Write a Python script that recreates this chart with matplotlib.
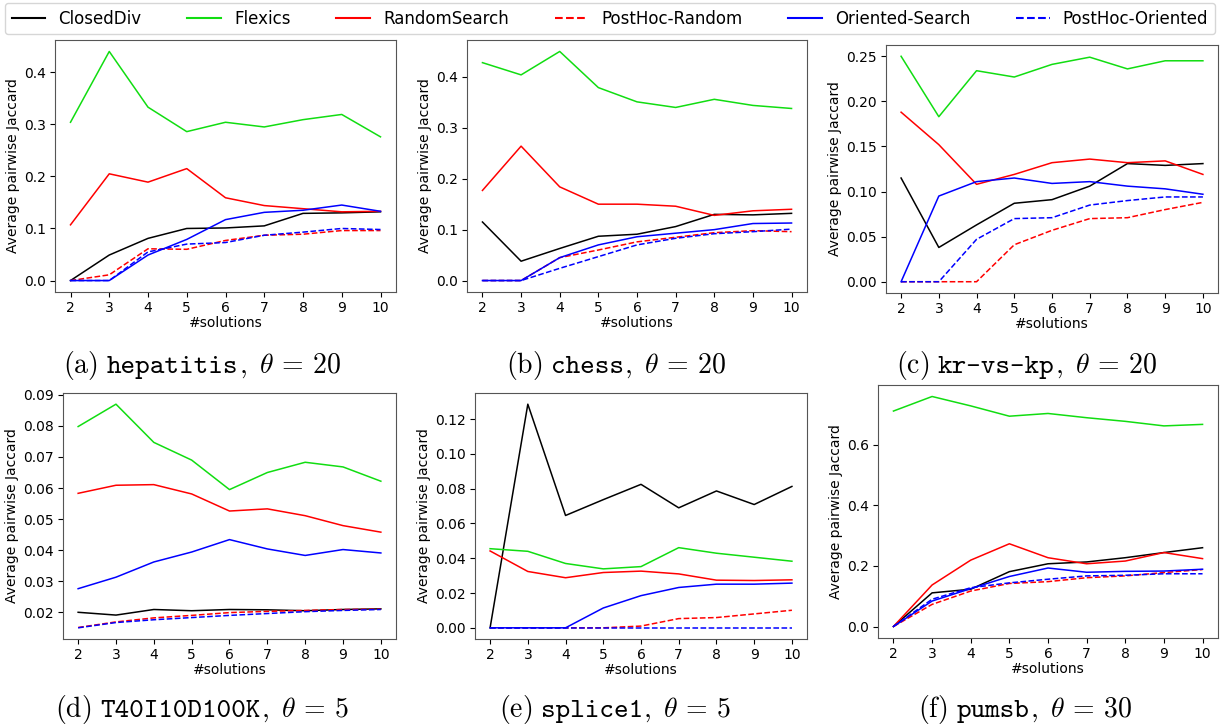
import os
import numpy as np
import matplotlib
matplotlib.use("Agg")
import matplotlib.pyplot as plt
from matplotlib.lines import Line2D
from matplotlib.font_manager import FontProperties
from matplotlib.ticker import MultipleLocator

plt.rcParams['mathtext.fontset'] = 'cm'

n_solutions = [2, 3, 4, 5, 6, 7, 8, 9, 10]

methods = ["ClosedDiv", "Flexics", "RandomSearch", "PostHoc-Random",
           "Oriented-Search", "PostHoc-Oriented"]
colors = ["black", "#11dd11", "red", "red", "blue", "blue"]
styles = ["-", "-", "-", "--", "-", "--"]

cap_labels = ["a", "b", "c", "d", "e", "f"]
datasets = ["hepatitis", "chess", "kr-vs-kp", "T40I10D100K", "splice1", "pumsb"]
thetas = [20, 20, 20, 5, 5, 30]

# (a) hepatitis
hep_closed = [0.0, 0.049, 0.081, 0.100, 0.101, 0.105, 0.129, 0.130, 0.132]
hep_flexics = [0.304, 0.440, 0.333, 0.286, 0.304, 0.295, 0.309, 0.319, 0.276]
hep_random = [0.107, 0.205, 0.189, 0.215, 0.159, 0.144, 0.138, 0.132, 0.133]
hep_ph_random = [0.0, 0.011, 0.061, 0.060, 0.077, 0.087, 0.089, 0.096, 0.096]
hep_oriented = [0.0, 0.0, 0.049, 0.079, 0.117, 0.131, 0.135, 0.145, 0.133]
hep_ph_oriented = [0.0, 0.0, 0.055, 0.070, 0.073, 0.087, 0.093, 0.100, 0.098]

# (b) chess
chess_closed = [0.115, 0.038, 0.063, 0.087, 0.091, 0.106, 0.130, 0.129, 0.132]
chess_flexics = [0.428, 0.404, 0.450, 0.379, 0.351, 0.340, 0.356, 0.344, 0.338]
chess_random = [0.177, 0.264, 0.184, 0.150, 0.150, 0.146, 0.128, 0.137, 0.140]
chess_ph_random = [0.0, 0.0, 0.045, 0.060, 0.076, 0.085, 0.094, 0.098, 0.096]
chess_oriented = [0.0, 0.0, 0.045, 0.070, 0.086, 0.093, 0.100, 0.112, 0.113]
chess_ph_oriented = [0.0, 0.0, 0.024, 0.047, 0.070, 0.083, 0.092, 0.096, 0.101]

# (c) kr-vs-kp
kr_closed = [0.115, 0.038, 0.063, 0.087, 0.091, 0.106, 0.131, 0.129, 0.131]
kr_flexics = [0.250, 0.183, 0.234, 0.227, 0.241, 0.249, 0.236, 0.245, 0.245]
kr_random = [0.188, 0.152, 0.108, 0.119, 0.132, 0.136, 0.132, 0.134, 0.119]
kr_ph_random = [0.0, 0.0, 0.0, 0.041, 0.057, 0.070, 0.071, 0.080, 0.088]
kr_oriented = [0.0, 0.095, 0.111, 0.115, 0.109, 0.111, 0.106, 0.103, 0.097]
kr_ph_oriented = [0.0, 0.0, 0.047, 0.070, 0.071, 0.085, 0.090, 0.094, 0.094]

# (d) T40I10D100K
t40_closed = [0.0200, 0.0191, 0.0209, 0.0205, 0.0209, 0.0208, 0.0205, 0.0209, 0.0211]
t40_flexics = [0.0798, 0.0870, 0.0747, 0.0690, 0.0595, 0.0650, 0.0683, 0.0668, 0.0622]
t40_random = [0.0583, 0.0609, 0.0611, 0.0581, 0.0526, 0.0533, 0.0511, 0.0479, 0.0458]
t40_ph_random = [0.0151, 0.0169, 0.0182, 0.0190, 0.0199, 0.0203, 0.0206, 0.0209, 0.0210]
t40_oriented = [0.0276, 0.0313, 0.0362, 0.0394, 0.0434, 0.0404, 0.0383, 0.0402, 0.0391]
t40_ph_oriented = [0.0150, 0.0167, 0.0176, 0.0183, 0.0190, 0.0196, 0.0202, 0.0206, 0.0209]

# (e) splice1
spl_closed = [0.0, 0.1286, 0.0646, 0.0737, 0.0825, 0.0690, 0.0787, 0.0709, 0.0813]
spl_flexics = [0.0455, 0.0440, 0.0370, 0.0339, 0.0352, 0.0461, 0.0429, 0.0406, 0.0383]
spl_random = [0.0442, 0.0324, 0.0288, 0.0318, 0.0326, 0.0310, 0.0274, 0.0272, 0.0276]
spl_ph_random = [0.0, 0.0, 0.0, 0.0, 0.0010, 0.0053, 0.0059, 0.0080, 0.0101]
spl_oriented = [0.0, 0.0, 0.0, 0.0114, 0.0185, 0.0232, 0.0251, 0.0251, 0.0257]
spl_ph_oriented = [0.0, 0.0, 0.0, 0.0, 0.0, 0.0, 0.0, 0.0, 0.0]

# (f) pumsb
pum_closed = [0.0, 0.111, 0.123, 0.181, 0.207, 0.213, 0.227, 0.244, 0.260]
pum_flexics = [0.711, 0.759, 0.728, 0.694, 0.703, 0.689, 0.677, 0.662, 0.667]
pum_random = [0.0, 0.137, 0.219, 0.273, 0.227, 0.207, 0.216, 0.244, 0.224]
pum_ph_random = [0.0, 0.073, 0.117, 0.142, 0.148, 0.161, 0.167, 0.178, 0.188]
pum_oriented = [0.0, 0.084, 0.125, 0.165, 0.193, 0.179, 0.182, 0.183, 0.189]
pum_ph_oriented = [0.0, 0.090, 0.128, 0.144, 0.156, 0.167, 0.169, 0.174, 0.174]

panels = [
    [hep_closed, hep_flexics, hep_random, hep_ph_random, hep_oriented, hep_ph_oriented],
    [chess_closed, chess_flexics, chess_random, chess_ph_random, chess_oriented, chess_ph_oriented],
    [kr_closed, kr_flexics, kr_random, kr_ph_random, kr_oriented, kr_ph_oriented],
    [t40_closed, t40_flexics, t40_random, t40_ph_random, t40_oriented, t40_ph_oriented],
    [spl_closed, spl_flexics, spl_random, spl_ph_random, spl_oriented, spl_ph_oriented],
    [pum_closed, pum_flexics, pum_random, pum_ph_random, pum_oriented, pum_ph_oriented],
]

W, H = 1220, 727
fig = plt.figure(figsize=(W / 100, H / 100), dpi=100)
fig.set_facecolor('white')

# axes boxes in pixels: left, top, right, bottom
boxes = [(55, 40, 396, 292), (467, 40, 807, 292), (886, 45, 1218, 293),
         (63, 393, 396, 639), (475, 393, 807, 639), (878, 385, 1218, 638)]
# caption centre x and baseline y in pixels
cap_pos = [(202, 373), (616, 373), (1026, 373),
           (202, 717), (615, 717), (1025, 717)]

for i, series in enumerate(panels):
    l, t, r, b = boxes[i]
    ax = fig.add_axes([l / W, 1 - b / H, (r - l) / W, (b - t) / H])
    for vals, c, ls in zip(series, colors, styles):
        ax.plot(n_solutions, vals, color=c, linestyle=ls, linewidth=1.1)
    ax.set_xticks(n_solutions)
    if i == 5:
        ax.yaxis.set_major_locator(MultipleLocator(0.2))
    ax.tick_params(labelsize=10, pad=3)
    ax.set_xlabel("#solutions", fontsize=10, labelpad=1)
    ax.set_ylabel("Average pairwise Jaccard", fontsize=10, labelpad=3)
    for sp in ax.spines.values():
        sp.set_color('#555555')

# captions: roman label, typewriter dataset name, math theta
tt_font = FontProperties(fname=os.path.join(matplotlib.get_data_path(),
                                            'fonts', 'ttf', 'cmtt10.ttf'), size=20)
renderer = fig.canvas.get_renderer()
for i in range(6):
    xc, yb = cap_pos[i]
    t1 = fig.text(0, 1 - yb / H, r"$\mathrm{(%s)}$" % cap_labels[i],
                  fontsize=20, va='baseline')
    t2 = fig.text(0, 1 - yb / H, datasets[i], fontproperties=tt_font,
                  va='baseline')
    t3 = fig.text(0, 1 - yb / H, r"$,\ \theta\,=\,%d$" % thetas[i],
                  fontsize=20, va='baseline')
    parts = [t1, t2, t3]
    widths = [p.get_window_extent(renderer).width for p in parts]
    gap = 9
    x = xc - (sum(widths) + gap) / 2
    for k, p in enumerate(parts):
        p.set_x(x / W)
        x += widths[k] + (gap if k == 0 else 0)

handles = [Line2D([], [], color=c, linestyle=ls, linewidth=1.5)
           for c, ls in zip(colors, styles)]
fig.legend(handles, methods, loc='upper left', ncol=6, mode='expand',
           bbox_to_anchor=(5 / W, 1 - 3 / H, 1210 / W, 0),
           fontsize=12, handlelength=2, borderaxespad=0, frameon=True)

fig.savefig("out.png", dpi=100)
